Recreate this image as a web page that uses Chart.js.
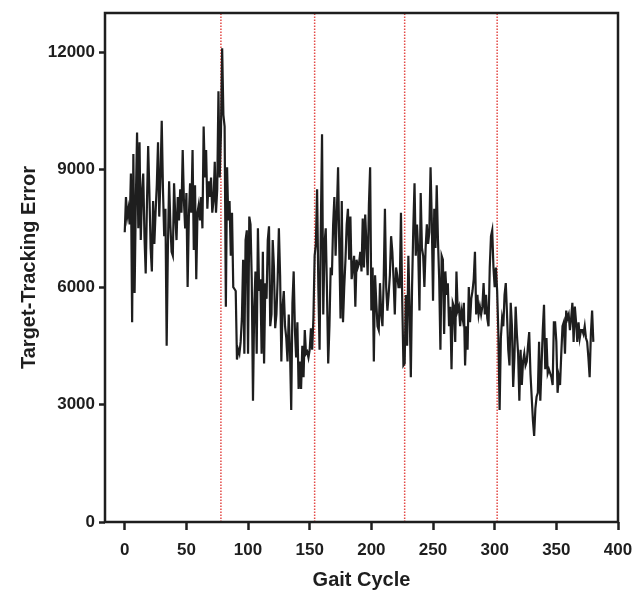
<!DOCTYPE html>
<html>
<head>
<meta charset="utf-8">
<script src="https://cdn.jsdelivr.net/npm/chart.js@4.4.1/dist/chart.umd.min.js"></script>
<style>
  html,body{margin:0;padding:0;background:#fff;}
  #wrap{width:632px;height:594px;}
</style>
</head>
<body>
<div id="wrap"><canvas id="c" width="632" height="594"></canvas></div>
<script>
// target-tracking error per gait cycle (cycle 0..380)
const trackingError = [
  7400,8300,7800,8000,7600,8900,5100,9400,5850,8200,
  9950,7500,9700,7200,8400,8900,7300,6350,8100,9600,
  8400,7000,6400,8200,7100,7900,8600,9700,7800,8800,
  10250,8500,7300,8000,4500,7000,8700,7600,6900,6800,
  8650,7800,7200,8300,7700,8500,7900,9500,8200,7500,
  8400,6000,7800,8650,7900,9500,6950,8600,6200,7900,
  8100,7700,8300,7500,10100,8800,9500,8000,8700,8300,
  8800,7900,8200,9200,7900,8500,11000,8800,9900,12100,
  10400,10100,5500,9060,7700,8200,6800,7900,6000,5950,
  5900,4150,4400,4300,4600,5200,6700,4300,7200,7450,
  4300,7800,7600,6200,3100,5500,6400,4300,7500,5900,
  6200,4300,6900,4050,6100,5700,7200,7550,5000,5300,
  7200,6500,4950,5300,6200,7500,6300,4100,5500,5900,
  5000,4700,4100,5300,4400,2860,5600,6400,4900,4200,
  5100,3400,4100,3400,4500,3700,4900,4300,4350,4200,
  4400,4950,4400,5200,6800,7100,8500,6000,4400,7500,
  9900,5300,7100,7500,5900,4050,5000,6500,6300,7600,
  8300,6800,7900,9060,7000,5200,8200,5100,6000,6700,
  7600,8000,6700,7800,6200,6500,6800,5500,6700,6500,
  6600,6900,6400,7750,6500,7850,7100,6300,8100,9060,
  5400,6500,4100,6300,5600,5000,4900,6100,5300,5000,
  6200,8000,6000,5400,5800,6300,7300,6900,6200,5300,
  6500,6300,6000,6000,7900,5700,4000,4050,5800,4500,
  6800,5500,3700,6000,7500,8650,6800,7600,6900,5400,
  8400,7000,6800,6000,7000,7600,7100,7400,9060,7700,
  5650,8000,7000,8600,7200,6200,4400,6800,6700,4800,
  6400,5800,6100,5000,5500,3900,5600,5500,4600,6400,
  5400,5500,5000,5400,5200,5600,4000,5000,4400,6000,
  5100,5700,5900,6200,6900,5300,5800,5300,5500,5300,
  5500,6100,5300,5800,5200,5000,6500,7300,7450,6500,
  6000,6500,5900,4800,2860,4700,5200,5000,5800,6100,
  5300,4400,4000,5600,5000,3450,4200,5500,4800,4300,
  3100,4400,3500,4100,4300,4000,4100,4500,4850,3800,
  3200,2600,2200,2900,3200,3300,4600,3100,4000,4900,
  5550,3900,4700,3800,3900,3800,3700,3500,5100,5100,
  4600,3300,3700,3500,4300,5000,5100,4300,5400,5200,
  5300,4900,5200,5600,4600,5500,5100,4600,5100,4700,
  4900,4900,4800,5000,4700,4600,4200,3700,4800,5400,
  4600
];
const firstCycle = 0;

// red dotted markers
const markerCycles = [78, 154, 227, 302];

const xTicks = [0, 50, 100, 150, 200, 250, 300, 350, 400];
const yTicks = [0, 3000, 6000, 9000, 12000];

const font = 'Liberation Sans, Arial, sans-serif';
const ink = '#1e1e1e';

const datasets = [{
  data: trackingError.map((v, i) => ({x: firstCycle + i, y: v})),
  borderColor: ink,
  borderWidth: 2.2,
  pointRadius: 0,
  tension: 0,
  order: 1
}];
markerCycles.forEach(c => {
  datasets.push({
    data: [{x: c, y: 0}, {x: c, y: 13000}],
    borderColor: '#e34a46',
    borderWidth: 1.5,
    borderDash: [1.5, 1.5],
    pointRadius: 0,
    order: 2
  });
});

// box around the plot
const frame = {
  id: 'frame',
  afterDatasetsDraw(chart) {
    const a = chart.chartArea, ctx = chart.ctx;
    ctx.save();
    ctx.strokeStyle = ink;
    ctx.lineWidth = 2.5;
    ctx.strokeRect(a.left, a.top, a.right - a.left, a.bottom - a.top);
    ctx.restore();
  }
};

new Chart(document.getElementById('c'), {
  type: 'line',
  data: {datasets},
  plugins: [frame],
  options: {
    responsive: false,
    animation: false,
    layout: {padding: {left: 0, right: 14, top: 13, bottom: 0}},
    plugins: {legend: {display: false}, tooltip: {enabled: false}},
    scales: {
      x: {
        type: 'linear',
        min: -16, max: 400,
        afterBuildTicks: s => { s.ticks = xTicks.map(v => ({value: v})); },
        afterFit: s => { s.height = 72; s.paddingRight = 0; s.paddingLeft = 0; },
        grid: {drawOnChartArea: false, drawTicks: true, tickLength: 8, tickColor: ink, tickWidth: 2.5},
        border: {display: false},
        ticks: {color: ink, padding: 10, maxRotation: 0, callback: v => String(v),
                font: {family: font, size: 17, weight: 'bold'}},
        title: {display: true, text: 'Gait Cycle', color: ink, padding: {top: 0, bottom: 2},
                font: {family: font, size: 20, weight: 'bold'}}
      },
      y: {
        min: 0, max: 13000,
        afterBuildTicks: s => { s.ticks = yTicks.map(v => ({value: v})); },
        afterFit: s => { s.width = 105; s.paddingTop = 0; s.paddingBottom = 0; },
        grid: {drawOnChartArea: false, drawTicks: true, tickLength: 6, tickColor: ink, tickWidth: 2.5},
        border: {display: false},
        ticks: {color: ink, padding: 4, callback: v => String(v),
                font: {family: font, size: 17, weight: 'bold'}},
        title: {display: true, text: 'Target-Tracking Error', color: ink, padding: {top: 17, bottom: 0},
                font: {family: font, size: 20, weight: 'bold'}}
      }
    }
  }
});
</script>
</body>
</html>
